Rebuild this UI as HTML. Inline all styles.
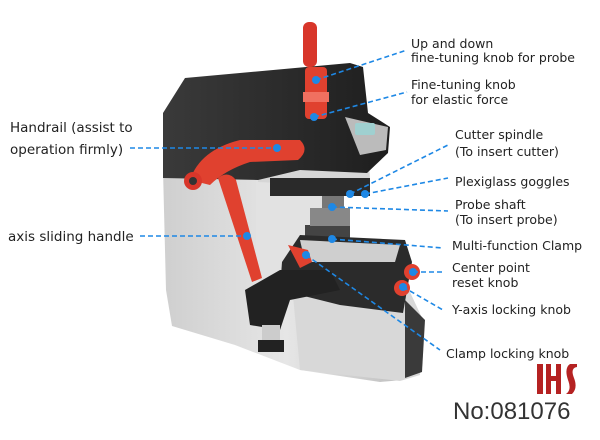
<!DOCTYPE html>
<html><head><meta charset="utf-8"><style>
html,body{margin:0;padding:0;background:#fff;width:600px;height:440px;overflow:hidden}
svg{display:block}
text{font-family:"DejaVu Sans","Liberation Sans",sans-serif;fill:#222}
</style></head><body>
<svg width="600" height="440" viewBox="0 0 600 440">
<defs>
<linearGradient id="gb" x1="0" x2="1"><stop offset="0" stop-color="#cfcfcf"/><stop offset="0.5" stop-color="#e6e6e6"/><stop offset="1" stop-color="#bdbdbd"/></linearGradient>
<linearGradient id="dk" x1="0" x2="1"><stop offset="0" stop-color="#3a3a3a"/><stop offset="1" stop-color="#1e1e1e"/></linearGradient>
</defs>
<polygon points="163,170 258,172 258,300 300,290 400,300 410,345 403,380 380,382 300,370 235,345 172,326 166,290" fill="url(#gb)"/>
<rect x="256" y="175" width="70" height="110" fill="#e2e2e2"/>
<polygon points="292,285 410,292 423,320 420,375 400,381 300,370" fill="#d8d8d8"/>
<polygon points="405,300 425,320 422,372 405,378" fill="#3a3a3a"/>
<polygon points="258,140 368,140 370,180 320,185 258,182" fill="#d6d6d6"/>
<polygon points="163,113 185,78 350,63 363,67 368,113 390,127 388,153 367,173 300,170 258,180 163,178" fill="url(#dk)"/>
<polygon points="345,117 388,127 386,150 360,155" fill="#bbb"/>
<rect x="355" y="123" width="20" height="12" rx="2" fill="#9fd0d0"/>
<rect x="270" y="178" width="100" height="18" fill="#2a2a2a"/>
<rect x="322" y="196" width="22" height="14" fill="#777"/>
<rect x="305" y="225" width="45" height="30" fill="#444"/>
<rect x="310" y="208" width="40" height="18" fill="#888"/>
<polygon points="282,262 300,235 405,240 412,262 403,313 340,305 280,290" fill="#2b2b2b"/>
<polygon points="300,240 400,245 395,262 305,262" fill="#cfcfcf"/>
<polygon points="245,290 280,270 330,270 340,290 290,300 280,330 250,325" fill="#222"/>
<rect x="262" y="325" width="18" height="22" fill="#ccc"/>
<rect x="258" y="340" width="26" height="12" fill="#222"/>
<rect x="303" y="22" width="14" height="45" rx="6" fill="#d8362a"/>
<rect x="305" y="67" width="22" height="52" rx="4" fill="#e0412f"/>
<rect x="303" y="92" width="26" height="10" fill="#f07060"/>
<path d="M190,180 Q200,150 240,140 L300,140 Q310,150 298,160 L250,162 Q225,170 210,185 Z" fill="#e0412f"/>
<circle cx="193" cy="181" r="9" fill="#d8362a"/><circle cx="193" cy="181" r="4" fill="#333"/>
<path d="M218,178 Q228,170 236,180 L262,278 L252,282 Z" fill="#e0412f"/>
<path d="M288,245 L308,250 L312,262 L300,268 Z" fill="#e0412f"/>
<circle cx="412" cy="272" r="8" fill="#e0412f"/>
<circle cx="402" cy="288" r="8" fill="#e0412f"/>
<g stroke="#1e88e5" stroke-width="1.6" stroke-dasharray="5,3" fill="none">
<line x1="316" y1="80" x2="407" y2="50"/>
<line x1="314" y1="117" x2="407" y2="92"/>
<line x1="130" y1="148" x2="277" y2="148"/>
<line x1="140" y1="236" x2="247" y2="236"/>
<line x1="350" y1="194" x2="448" y2="145"/>
<line x1="365" y1="194" x2="448" y2="178"/>
<line x1="332" y1="207" x2="448" y2="211"/>
<line x1="332" y1="239" x2="443" y2="248"/>
<line x1="413" y1="272" x2="443" y2="272"/>
<line x1="403" y1="287" x2="443" y2="310"/>
<line x1="306" y1="255" x2="440" y2="350"/>
</g>
<g fill="#1e88e5">
<circle cx="316" cy="80" r="4"/><circle cx="314" cy="117" r="4"/><circle cx="277" cy="148" r="4"/>
<circle cx="247" cy="236" r="4"/><circle cx="350" cy="194" r="4"/><circle cx="365" cy="194" r="4"/>
<circle cx="332" cy="207" r="4"/><circle cx="332" cy="239" r="4"/><circle cx="413" cy="272" r="4"/>
<circle cx="403" cy="287" r="4"/><circle cx="306" cy="255" r="4"/>
</g>
<g font-size="12.5">
<text x="411" y="48">Up and down</text>
<text x="411" y="62">fine-tuning knob for probe</text>
<text x="411" y="89">Fine-tuning knob</text>
<text x="411" y="104">for elastic force</text>
<text x="455" y="139">Cutter spindle</text>
<text x="455" y="156">(To insert cutter)</text>
<text x="455" y="186">Plexiglass goggles</text>
<text x="455" y="209">Probe shaft</text>
<text x="455" y="224">(To insert probe)</text>
<text x="452" y="250">Multi-function Clamp</text>
<text x="452" y="272">Center point</text>
<text x="452" y="287">reset knob</text>
<text x="452" y="314">Y-axis locking knob</text>
<text x="446" y="358">Clamp locking knob</text>
</g>
<g font-size="13.5">
<text x="10" y="132">Handrail (assist to</text>
<text x="10" y="154">operation firmly)</text>
<text x="8" y="241">axis sliding handle</text>
</g>
<rect x="537" y="364" width="6" height="30" fill="#b52222"/>
<rect x="546" y="364" width="5" height="30" fill="#b52222"/>
<rect x="546" y="376" width="14" height="5" fill="#b52222"/>
<rect x="556" y="364" width="5" height="30" fill="#b52222"/>
<path d="M577,364 L570,364 Q564,368 568,380 Q572,390 566,394 L572,394 Q578,388 574,378 Q570,368 577,367 Z" fill="#b52222"/>
<text x="453" y="419" font-size="24" style="fill:#333;font-family:'Liberation Sans',sans-serif">No:081076</text>
</svg>
</body></html>
